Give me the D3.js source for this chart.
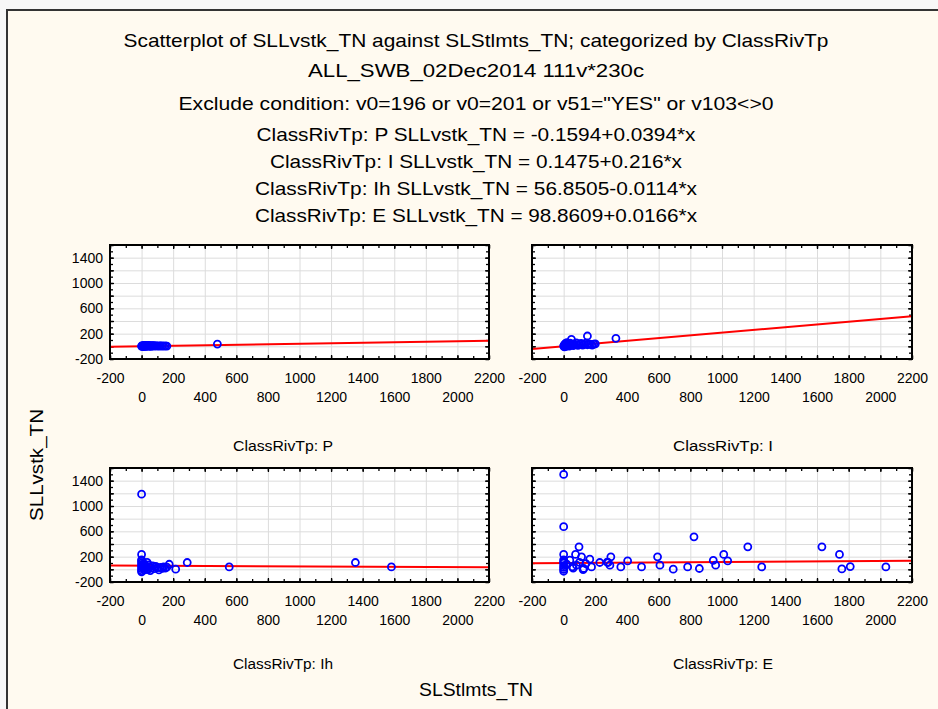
<!DOCTYPE html>
<html>
<head>
<meta charset="utf-8">
<script src="https://cdn.jsdelivr.net/npm/d3@7"></script>
<style>
  html, body { margin: 0; padding: 0; background: #f7f7f7; }
  svg { display: block; }
  text { font-family: "Liberation Sans", Arial, sans-serif; fill: #000; }
</style>
</head>
<body>
<svg id="chart" width="938" height="709"></svg>
<script>
// Title block
const titleLines = [
  "Scatterplot of SLLvstk_TN against SLStlmts_TN; categorized by ClassRivTp",
  "ALL_SWB_02Dec2014 111v*230c",
  "Exclude condition: v0=196 or v0=201 or v51=\"YES\" or v103<>0",
  "ClassRivTp: P SLLvstk_TN = -0.1594+0.0394*x",
  "ClassRivTp: I SLLvstk_TN = 0.1475+0.216*x",
  "ClassRivTp: Ih SLLvstk_TN = 56.8505-0.0114*x",
  "ClassRivTp: E SLLvstk_TN = 98.8609+0.0166*x"
];
const titleWidths = [705, 336, 595, 439, 412, 442, 442];
const titleY = [40, 70, 103, 134, 161, 188, 215];

// Categories and fitted lines (intercept, slope)
const classes = ["P", "I", "Ih", "E"];
const intercepts = [-0.1594, 0.1475, 56.8505, 98.8609];
const slopes = [0.0394, 0.216, -0.0114, 0.0166];

// SLStlmts_TN (x) and SLLvstk_TN (y) per class
const xP = [0, 2, 5, 8, 10, 12, 15, 18, 20, 22, 25, 28, 30, 35, 40, 42, 45, 50, 55, 60, 65, 70, 75, 80, 90, 100, 110, 120, 130, 140, 150, 160, 480];
const yP = [5, 0, 8, 3, 12, -5, 6, 10, 2, 15, 4, 9, -2, 7, 11, 3, 14, 5, 8, 1, 10, 6, 12, 4, 9, 3, 7, 5, 8, 2, 6, 4, 35];

const xI = [0, 3, 5, 8, 10, 12, 15, 18, 20, 25, 30, 35, 40, 45, 49, 55, 60, 65, 70, 80, 90, 100, 110, 120, 130, 140, 150, 160, 170, 180, 190, 200, 150, 330];
const yI = [5, 20, -10, 30, 10, 45, 0, 25, 60, 15, 35, 5, 50, 20, 111, 30, 10, 40, 25, 55, 15, 35, 45, 20, 30, 50, 25, 40, 30, 20, 35, 40, 163, 126];

const xIh = [0, 0, 0, 0, 0, 0, 0, 0, 0, 0, 5, 10, 15, 20, 25, 30, 35, 40, 45, 50, 55, 60, 70, 80, 90, 100, 110, 120, 130, 140, 150, 160, 175, 216, 289, 555, 1354, 1582];
const yIh = [-20, 10, 40, 70, 100, 130, 1187, 235, 150, -40, 50, 20, 90, -10, 60, 30, 110, 0, 70, 40, -20, 20, 55, 10, 45, 25, -10, 30, 15, 40, 20, 35, 80, 2, 108, 38, 108, 38];

const xE = [0, 0, 0, 0, 0, 0, 0, 0, 0, 0, 20, 39, 55, 60, 75, 81, 97, 100, 113, 123, 127, 140, 165, 176, 228, 275, 281, 292, 298, 361, 404, 492, 593, 608, 692, 783, 823, 857, 945, 960, 1011, 1036, 1163, 1251, 1631, 1742, 1757, 1810, 2035];
const yE = [1498, 673, 235, 150, 100, 60, 30, 0, -30, 120, 80, 144, 40, 20, 235, 65, 356, 110, 197, -3, 13, 90, 160, 38, 108, 113, 108, 65, 197, 38, 133, 38, 197, 65, 2, 38, 514, 13, 140, 65, 235, 133, 356, 38, 356, 235, 6, 44, 38];

const seriesX = [xP, xI, xIh, xE];
const seriesY = [yP, yI, yIh, yE];

// Axis settings
const xDomain = [-200, 2200];
const yDomain = [-200, 1600];
const xMajor = d3.range(-200, 2201, 200);
const xMinor = d3.range(-200, 2201, 100);
const yMajor = d3.range(-200, 1601, 200);
const yMinor = d3.range(-200, 1601, 100);
const yLabels = [-200, 200, 600, 1000, 1400];

const svg = d3.select("#chart");
const plain = d => String(d);   // hyphen-minus, as printed on the axes

// Page background and outer frame
svg.append("rect").attr("x", 0).attr("y", 0).attr("width", 938).attr("height", 709).attr("fill", "#f7f7f7");
svg.append("rect").attr("x", 7).attr("y", 10).attr("width", 960).attr("height", 720)
  .attr("fill", "#fffaf0").attr("stroke", "#333").attr("stroke-width", 2);

// Titles
svg.selectAll("text.title").data(titleLines).join("text")
  .attr("class", "title")
  .attr("x", 476)
  .attr("y", (d, i) => titleY[i])
  .attr("text-anchor", "middle")
  .attr("dominant-baseline", "central")
  .attr("font-size", 19)
  .attr("textLength", (d, i) => titleWidths[i])
  .attr("lengthAdjust", "spacingAndGlyphs")
  .text(d => d);

// Panel layout
const cells = [
  { x0: 110, x1: 489, y0: 245, y1: 359, yTicks: true, labelX: 283, labelY: 446 },
  { x0: 532, x1: 912, y0: 245, y1: 359, yTicks: false, labelX: 723, labelY: 446 },
  { x0: 110, x1: 489, y0: 468, y1: 582, yTicks: true, labelX: 283, labelY: 664 },
  { x0: 532, x1: 912, y0: 468, y1: 582, yTicks: false, labelX: 723, labelY: 664 }
];

cells.forEach((c, k) => {
  const x = d3.scaleLinear().domain(xDomain).range([c.x0, c.x1]);
  const y = d3.scaleLinear().domain(yDomain).range([c.y1, c.y0]);
  const g = svg.append("g");
  const clipId = "clip" + k;
  g.append("clipPath").attr("id", clipId).append("rect")
    .attr("x", c.x0).attr("y", c.y0).attr("width", c.x1 - c.x0).attr("height", c.y1 - c.y0);

  // plot area
  g.append("rect").attr("x", c.x0).attr("y", c.y0).attr("width", c.x1 - c.x0).attr("height", c.y1 - c.y0)
    .attr("fill", "#ffffff");

  // grid
  g.append("g").attr("transform", `translate(0,${c.y1})`)
    .call(d3.axisBottom(x).tickValues(xMajor.slice(1, -1)).tickSize(-(c.y1 - c.y0)).tickFormat(""))
    .call(a => a.select(".domain").remove())
    .call(a => a.selectAll("line").attr("stroke", "#dcdcdc").attr("stroke-width", 1));
  g.append("g").attr("transform", `translate(${c.x0},0)`)
    .call(d3.axisLeft(y).tickValues(yMajor.slice(1, -1)).tickSize(-(c.x1 - c.x0)).tickFormat(""))
    .call(a => a.select(".domain").remove())
    .call(a => a.selectAll("line").attr("stroke", "#dcdcdc").attr("stroke-width", 1));

  // inward tick marks on all four sides
  const tickStyle = a => { a.select(".domain").remove(); a.selectAll("line").attr("stroke", "#000").attr("stroke-width", 1.3); };
  [[xMinor, 3], [xMajor, 4]].forEach(([vals, len]) => {
    g.append("g").attr("transform", `translate(0,${c.y1})`)
      .call(d3.axisBottom(x).tickValues(vals).tickSize(-len).tickFormat("")).call(tickStyle);
    g.append("g").attr("transform", `translate(0,${c.y0})`)
      .call(d3.axisTop(x).tickValues(vals).tickSize(-len).tickFormat("")).call(tickStyle);
  });
  [[yMinor, 3], [yMajor, 4]].forEach(([vals, len]) => {
    g.append("g").attr("transform", `translate(${c.x0},0)`)
      .call(d3.axisLeft(y).tickValues(vals).tickSize(-len).tickFormat("")).call(tickStyle);
    g.append("g").attr("transform", `translate(${c.x1},0)`)
      .call(d3.axisRight(y).tickValues(vals).tickSize(-len).tickFormat("")).call(tickStyle);
  });

  // x tick labels, staggered in two rows
  g.append("g").attr("transform", `translate(0,${c.y1})`)
    .call(d3.axisBottom(x).tickValues(xMajor).tickSize(0).tickFormat(plain))
    .call(a => a.select(".domain").remove())
    .call(a => a.selectAll("text")
      .attr("font-family", "\"Liberation Sans\", Arial, sans-serif")
      .attr("font-size", 14)
      .attr("fill", "#000")
      .attr("dy", null)
      .attr("dominant-baseline", "central")
      .attr("y", (d, i) => (i % 2 === 0 ? 19 : 38)));

  // y tick labels on the left column
  if (c.yTicks) {
    g.append("g").attr("transform", `translate(${c.x0},0)`)
      .call(d3.axisLeft(y).tickValues(yLabels).tickSize(0).tickPadding(7).tickFormat(plain))
      .call(a => a.select(".domain").remove())
      .call(a => a.selectAll("text")
        .attr("font-family", "\"Liberation Sans\", Arial, sans-serif")
        .attr("font-size", 14)
        .attr("fill", "#000"));
  }

  // fitted line
  const b0 = intercepts[k], b1 = slopes[k];
  g.append("path")
    .attr("clip-path", `url(#${clipId})`)
    .attr("d", d3.line().x(d => x(d)).y(d => y(b0 + b1 * d))(xDomain))
    .attr("fill", "none").attr("stroke", "#ff0000").attr("stroke-width", 2);

  // points
  const pts = seriesX[k].map((v, i) => [v, seriesY[k][i]]);
  g.append("g").attr("clip-path", `url(#${clipId})`)
    .selectAll("circle").data(pts).join("circle")
    .attr("cx", d => x(d[0])).attr("cy", d => y(d[1])).attr("r", 3.5)
    .attr("fill", "none").attr("stroke", "#0000ff").attr("stroke-width", 1.8);

  // frame
  g.append("rect").attr("x", c.x0).attr("y", c.y0).attr("width", c.x1 - c.x0).attr("height", c.y1 - c.y0)
    .attr("fill", "none").attr("stroke", "#000").attr("stroke-width", 2);

  // panel caption
  svg.append("text")
    .attr("x", c.labelX).attr("y", c.labelY)
    .attr("text-anchor", "middle").attr("dominant-baseline", "central")
    .attr("font-size", 14).attr("textLength", 100).attr("lengthAdjust", "spacingAndGlyphs")
    .text("ClassRivTp: " + classes[k]);
});

// axis titles
svg.append("text")
  .attr("x", 476).attr("y", 690)
  .attr("text-anchor", "middle").attr("dominant-baseline", "central")
  .attr("font-size", 18).attr("textLength", 114).attr("lengthAdjust", "spacingAndGlyphs")
  .text("SLStlmts_TN");
svg.append("text")
  .attr("transform", "translate(37,465) rotate(-90)")
  .attr("text-anchor", "middle").attr("dominant-baseline", "central")
  .attr("font-size", 18).attr("textLength", 112).attr("lengthAdjust", "spacingAndGlyphs")
  .text("SLLvstk_TN");
</script>
</body>
</html>
